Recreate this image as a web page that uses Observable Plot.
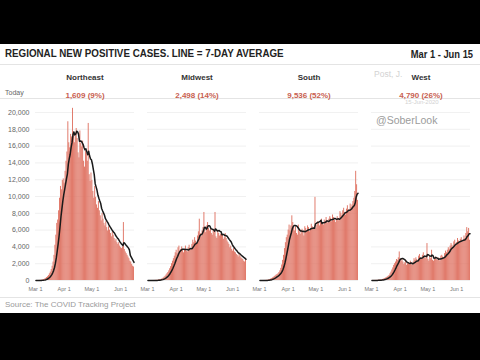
<!DOCTYPE html>
<html><head><meta charset="utf-8">
<script src="https://cdn.jsdelivr.net/npm/d3@7"></script>
<script src="https://cdn.jsdelivr.net/npm/@observablehq/plot@0.6"></script>
<style>
html,body{margin:0;padding:0;background:#000;width:480px;height:360px;overflow:hidden;font-family:"Liberation Sans",Arial,sans-serif;}
#card{position:absolute;left:0;top:44px;width:480px;height:269px;background:#fff;}
.abs{position:absolute;white-space:nowrap;line-height:1;}
#title{left:5px;top:3.5px;font-size:11px;font-weight:bold;color:#222;transform:scaleX(0.89);transform-origin:left center;}
#range{right:7px;top:4.5px;font-size:10.5px;font-weight:bold;color:#222;transform:scaleX(0.89);transform-origin:right center;}
.sep{position:absolute;left:0;width:480px;height:1px;background:#e4e4e4;}
#today{left:5px;top:44.5px;font-size:7px;color:#666;}
#source{left:5px;top:257px;font-size:8px;color:#9a9a9a;}
#chart{position:absolute;left:0;top:20px;}
#chart svg{display:block;}
#chart svg [aria-label^="y-axis"] text{font-size:7px;fill:#666;}
#chart svg [aria-label^="x-axis"] text{font-size:5.5px;fill:#777;}
.wm{color:#9c9c9c;}
.wm2{color:#d2d2d2;}
</style>
</head><body>
<div id="card">
  <div class="abs" id="title">REGIONAL NEW POSITIVE CASES. LINE = 7-DAY AVERAGE</div>
  <div class="abs" id="range">Mar 1 - Jun 15</div>
  <div class="sep" style="top:20px"></div>
  <div class="abs" id="today">Today</div>
  <div class="sep" style="top:54px"></div>
  <div id="chart"></div>
  <div class="sep" style="top:253px"></div>
  <div class="abs" id="source">Source: The COVID Tracking Project</div>
  <div class="abs wm2" style="left:374px;top:26px;font-size:8.5px;">Post, J.</div>
  <div class="abs wm2" style="left:405px;top:55px;font-size:6px;">15-Jun-2020</div>
  <div class="abs wm" style="left:376px;top:71px;font-size:10.5px;">@SoberLook</div>
</div>
<script>
const regions = ["Northeast", "Midwest", "South", "West"];
const startDate = "2020-03-01";
const endDate = "2020-06-16";
const xTickDates = ["2020-03-01", "2020-04-01", "2020-05-01", "2020-06-01"];
const yTicks = [0, 2000, 4000, 6000, 8000, 10000, 12000, 14000, 16000, 18000, 20000];

const northeast = [
  0,0,1,3,8,15,30,50,80,120,
  180,250,350,450,600,800,1000,1300,1700,2200,
  3000,4200,5400,6800,7200,8300,9800,11200,10800,11900,
  12100,11600,13000,14200,15300,18900,16400,15800,17400,17100,
  20500,17700,16400,17200,18100,16900,15200,14600,17800,16300,
  15900,16600,14200,13500,15400,15100,14200,18700,12600,11800,
  12800,11900,10600,9800,11200,9900,9000,8600,9400,8300,
  7700,7100,8000,7300,6800,6500,7000,6300,5900,6400,
  6000,5600,5200,5800,5400,5000,4700,4900,4500,4300,
  4500,4100,3900,3800,4000,6900,3700,3400,3200,3000,
  2800,2600,2300,2200,1900,1700,1609
];
const midwest = [
  0,0,0,1,2,4,6,10,15,25,
  30,45,65,90,120,160,220,300,400,500,
  650,800,950,1150,1400,1650,2000,2300,2600,2900,
  3300,3600,3200,3900,4100,3500,3700,4000,3600,3300,
  3700,4100,3500,3400,3900,4200,3800,3600,4300,4800,
  4500,5100,4700,4400,5300,5800,7300,5600,5200,5900,
  6300,8100,6000,5700,6500,6900,6200,5900,6100,5600,
  5400,6100,5800,8100,5200,5000,5900,5600,5300,5500,
  5700,5400,4900,5100,5600,5000,4700,4500,4300,3900,
  4100,3700,3500,3800,3400,3300,3100,3000,2800,3200,
  2900,2700,2600,2500,2300,2200,2498
];
const south = [
  0,0,1,2,4,8,12,20,35,55,
  80,120,170,230,300,380,470,560,650,720,
  800,950,1150,1450,1850,2400,3000,3800,4500,5100,
  5400,6000,6600,5900,6500,7700,6900,6300,5900,6400,
  5600,5400,6600,5800,5500,5900,6100,5700,5300,6400,
  6200,5900,6500,6300,5800,6000,6700,6400,6100,6300,
  9900,6200,6600,7000,6800,6500,7100,7300,6900,6600,
  7200,7000,7500,7100,6800,7300,7600,7400,7000,7800,
  7500,7200,6900,7300,7600,7100,7400,8200,8000,7700,
  8300,8600,8100,7800,8500,8900,8400,8200,9100,8700,
  9000,9400,9800,10600,13000,11400,9536
];
const west = [
  5,5,8,10,15,20,25,35,45,60,
  80,100,130,170,220,280,350,420,500,600,
  800,1000,1250,1500,1800,2000,2200,2500,2400,2700,
  3400,2600,2300,2500,2200,1900,2100,2400,1800,2000,
  2100,1900,2300,2000,1800,2200,2600,2400,2700,2500,
  2300,2900,3100,2700,2600,3000,3300,2800,2600,2900,
  4400,2500,2300,2900,2600,3600,2400,2300,2600,2800,
  2500,2400,2700,2600,2300,2900,3000,2800,2700,3200,
  3500,3300,3600,3900,3700,4100,4400,4200,3900,4600,
  4800,4300,4500,5000,4700,4400,4900,5100,4600,4800,
  5300,5000,5600,6300,5800,6200,4790
];

const seriesList = [northeast, midwest, south, west];
const start = new Date(startDate);
const end = new Date(endDate);
const rows = regions.flatMap((r, i) =>
  seriesList[i].map((v, j) => ({region: r, date: d3.utcDay.offset(start, j), cases: v}))
);
const total = d3.sum(seriesList, s => s[s.length - 1]);
const fmt = d3.format(",");
const todayText = d => `${fmt(d.cases)} (${Math.round(d.cases / total * 100)}%)`;

const chart = Plot.plot({
  width: 480,
  height: 234,
  marginLeft: 33,
  marginRight: 8,
  marginTop: 41.3,
  marginBottom: 18,
  style: {fontFamily: "'Liberation Sans', Arial, sans-serif", background: "transparent", color: "#666", overflow: "visible"},
  facet: {data: rows, x: "region"},
  fx: {domain: regions, paddingInner: 0.115, paddingOuter: 0, axis: null, label: null},
  x: {type: "utc", domain: [start, end], ticks: xTickDates.map(d => new Date(d)), tickFormat: d3.utcFormat("%b %-d"), tickSize: 0, tickPadding: 7, label: null},
  y: {domain: [0, 20800], ticks: yTicks, tickFormat: d3.format(","), tickSize: 0, tickPadding: 6, label: null},
  marks: [
    Plot.ruleY(yTicks, {stroke: "#ececec", strokeWidth: 0.8}),
    Plot.rect(rows, {x1: "date", x2: d => d3.utcDay.offset(d.date, 1), y1: 0, y2: "cases", fill: "#df7262"}),
    Plot.lineY(rows, Plot.windowY({k: 7, anchor: "end"}, {x: d => d3.utcHour.offset(d.date, 12), y: "cases", stroke: "#1a1a1a", strokeWidth: 1.5})),
    Plot.text(rows, Plot.selectLast({text: "region", frameAnchor: "top", dy: -31.3, fontSize: 8, fontWeight: "bold", fill: "#333"})),
    Plot.text(rows, Plot.selectLast({text: todayText, frameAnchor: "top", dy: -13.3, fontSize: 8, fontWeight: "bold", fill: "#c8604f"}))
  ]
});
document.getElementById("chart").appendChild(chart);
</script>
</body></html>
